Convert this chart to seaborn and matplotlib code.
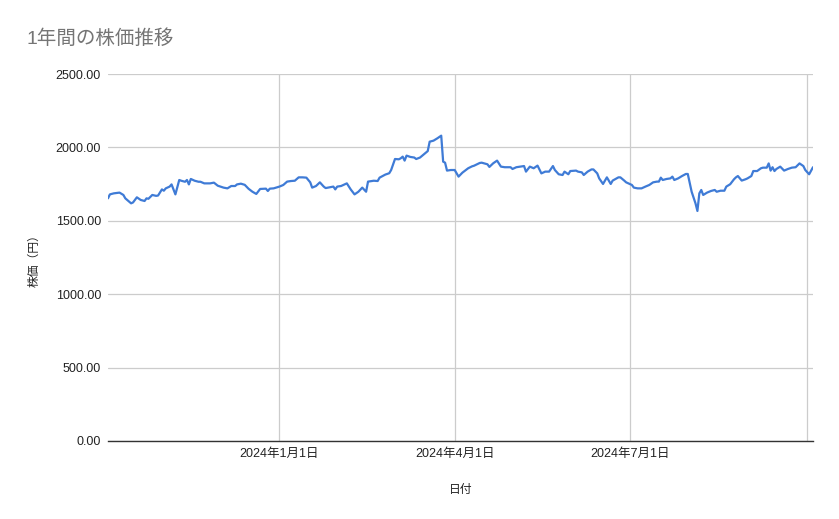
import pandas as pd
import matplotlib.pyplot as plt
import matplotlib.dates as mdates
import seaborn as sns

# dates + closing prices
dates = [
    '2023-10-04', '2023-10-05', '2023-10-07', '2023-10-10', '2023-10-12', '2023-10-13', '2023-10-16', '2023-10-17',
    '2023-10-19', '2023-10-21', '2023-10-23', '2023-10-24', '2023-10-25', '2023-10-27', '2023-10-29', '2023-10-30',
    '2023-11-01', '2023-11-02', '2023-11-03', '2023-11-05', '2023-11-06', '2023-11-08', '2023-11-10', '2023-11-11',
    '2023-11-13', '2023-11-14', '2023-11-15', '2023-11-16', '2023-11-18', '2023-11-20', '2023-11-21', '2023-11-23',
    '2023-11-26', '2023-11-28', '2023-11-30', '2023-12-03', '2023-12-05', '2023-12-07', '2023-12-09', '2023-12-10',
    '2023-12-12', '2023-12-14', '2023-12-16', '2023-12-18', '2023-12-20', '2023-12-22', '2023-12-25', '2023-12-26',
    '2023-12-27', '2023-12-29', '2024-01-01', '2024-01-03', '2024-01-05', '2024-01-07', '2024-01-09', '2024-01-11',
    '2024-01-13', '2024-01-15', '2024-01-17', '2024-01-18', '2024-01-20', '2024-01-22', '2024-01-24', '2024-01-25',
    '2024-01-27', '2024-01-29', '2024-01-30', '2024-01-31', '2024-02-02', '2024-02-05', '2024-02-07', '2024-02-09',
    '2024-02-11', '2024-02-13', '2024-02-15', '2024-02-16', '2024-02-19', '2024-02-21', '2024-02-22', '2024-02-25',
    '2024-02-27', '2024-02-28', '2024-03-01', '2024-03-03', '2024-03-04', '2024-03-05', '2024-03-06', '2024-03-07',
    '2024-03-09', '2024-03-11', '2024-03-12', '2024-03-14', '2024-03-16', '2024-03-18', '2024-03-19', '2024-03-21',
    '2024-03-23', '2024-03-25', '2024-03-26', '2024-03-27', '2024-03-28', '2024-03-30', '2024-04-01', '2024-04-03',
    '2024-04-05', '2024-04-08', '2024-04-10', '2024-04-11', '2024-04-14', '2024-04-15', '2024-04-18', '2024-04-19',
    '2024-04-21', '2024-04-23', '2024-04-25', '2024-04-27', '2024-04-30', '2024-05-01', '2024-05-03', '2024-05-07',
    '2024-05-08', '2024-05-10', '2024-05-12', '2024-05-14', '2024-05-16', '2024-05-18', '2024-05-20', '2024-05-22',
    '2024-05-23', '2024-05-25', '2024-05-27', '2024-05-28', '2024-05-30', '2024-05-31', '2024-06-03', '2024-06-04',
    '2024-06-06', '2024-06-07', '2024-06-09', '2024-06-11', '2024-06-12', '2024-06-14', '2024-06-15', '2024-06-17',
    '2024-06-19', '2024-06-21', '2024-06-22', '2024-06-25', '2024-06-26', '2024-06-28', '2024-06-29', '2024-07-02',
    '2024-07-03', '2024-07-05', '2024-07-07', '2024-07-09', '2024-07-11', '2024-07-13', '2024-07-15', '2024-07-16',
    '2024-07-17', '2024-07-18', '2024-07-20', '2024-07-22', '2024-07-23', '2024-07-24', '2024-07-26', '2024-07-28',
    '2024-07-30', '2024-07-31', '2024-08-02', '2024-08-04', '2024-08-05', '2024-08-06', '2024-08-07', '2024-08-08',
    '2024-08-10', '2024-08-12', '2024-08-14', '2024-08-15', '2024-08-17', '2024-08-19', '2024-08-20', '2024-08-22',
    '2024-08-24', '2024-08-25', '2024-08-26', '2024-08-28', '2024-08-30', '2024-08-31', '2024-09-02', '2024-09-03',
    '2024-09-05', '2024-09-07', '2024-09-08', '2024-09-10', '2024-09-11', '2024-09-12', '2024-09-13', '2024-09-14',
    '2024-09-15', '2024-09-17', '2024-09-19', '2024-09-21', '2024-09-23', '2024-09-25', '2024-09-27', '2024-09-29',
    '2024-09-30', '2024-10-02', '2024-10-04',
]
prices = [
    1653, 1680, 1687, 1692, 1676, 1653, 1619, 1625,
    1660, 1642, 1635, 1653, 1650, 1676, 1670, 1672,
    1714, 1705, 1721, 1733, 1748, 1680, 1778, 1773,
    1766, 1778, 1748, 1785, 1773, 1766, 1766, 1755,
    1755, 1760, 1739, 1726, 1721, 1737, 1737, 1748,
    1753, 1745, 1718, 1698, 1683, 1717, 1719, 1703,
    1719, 1721, 1733, 1744, 1767, 1771, 1773, 1796,
    1796, 1794, 1762, 1726, 1737, 1762, 1733, 1723,
    1728, 1733, 1714, 1733, 1737, 1755, 1714, 1680,
    1698, 1726, 1698, 1767, 1773, 1771, 1794, 1815,
    1824, 1846, 1921, 1919, 1926, 1937, 1910, 1944,
    1935, 1931, 1921, 1931, 1953, 1975, 2039, 2046,
    2062, 2080, 1903, 1896, 1842, 1846, 1846, 1801,
    1828, 1858, 1871, 1875, 1894, 1896, 1885, 1867,
    1892, 1910, 1869, 1865, 1865, 1853, 1865, 1873,
    1835, 1869, 1858, 1876, 1823, 1835, 1835, 1873,
    1846, 1817, 1812, 1835, 1817, 1839, 1842, 1835,
    1830, 1812, 1835, 1850, 1850, 1823, 1789, 1751,
    1796, 1751, 1774, 1796, 1796, 1774, 1762, 1744,
    1726, 1721, 1721, 1733, 1744, 1762, 1767, 1767,
    1794, 1778, 1785, 1789, 1801, 1778, 1789, 1805,
    1819, 1819, 1698, 1619, 1567, 1687, 1710, 1676,
    1692, 1703, 1710, 1698, 1705, 1705, 1733, 1749,
    1783, 1796, 1805, 1774, 1783, 1789, 1805, 1839,
    1839, 1858, 1862, 1862, 1891, 1842, 1865, 1839,
    1853, 1869, 1842, 1853, 1862, 1865, 1891, 1873,
    1846, 1817, 1865,
]

tick_dates = ['2024-01-01', '2024-04-01', '2024-07-01', '2024-10-01']
tick_labels = ['2024年1月1日', '2024年4月1日', '2024年7月1日', '']
y_ticks = [0, 500, 1000, 1500, 2000, 2500]

df = pd.DataFrame({'日付': pd.to_datetime(dates), '株価': prices})

sns.set_style('white')
plt.rcParams['font.family'] = ['Liberation Sans', 'Noto Sans CJK JP', 'DejaVu Sans']

fig = plt.figure(figsize=(8.39, 5.19), dpi=100)
ax = fig.add_axes([0.1287, 0.1503, 0.8403, 0.7071])

sns.lineplot(data=df, x='日付', y='株価', color='#3f7bd6', linewidth=1.6, ax=ax)

ax.set_xlim(df['日付'].min(), df['日付'].max())
ax.set_ylim(0, 2500)
ax.set_yticks(y_ticks)
ax.set_yticklabels([f'{v:.2f}' for v in y_ticks])
ax.set_xticks(mdates.date2num(pd.to_datetime(tick_dates)))
ax.set_xticklabels(tick_labels)

ax.grid(True, color='#cccccc', linewidth=0.9)
ax.set_axisbelow(True)
for s in ['top', 'right', 'left']:
    ax.spines[s].set_visible(False)
ax.spines['bottom'].set_color('#333333')
ax.spines['bottom'].set_linewidth(1.0)
ax.tick_params(axis='both', length=0, labelsize=9, colors='#222222')
ax.tick_params(axis='y', pad=5)
ax.tick_params(axis='x', pad=5)

ax.set_xlabel('日付', fontsize=8.5, color='#222222', labelpad=17)
ax.set_ylabel('株価（円）', fontsize=8.5, color='#222222', labelpad=11)

fig.text(0.032, 0.925, '1年間の株価推移', fontsize=14, color='#757575', ha='left', va='center')

plt.savefig('out.png', dpi=100)
